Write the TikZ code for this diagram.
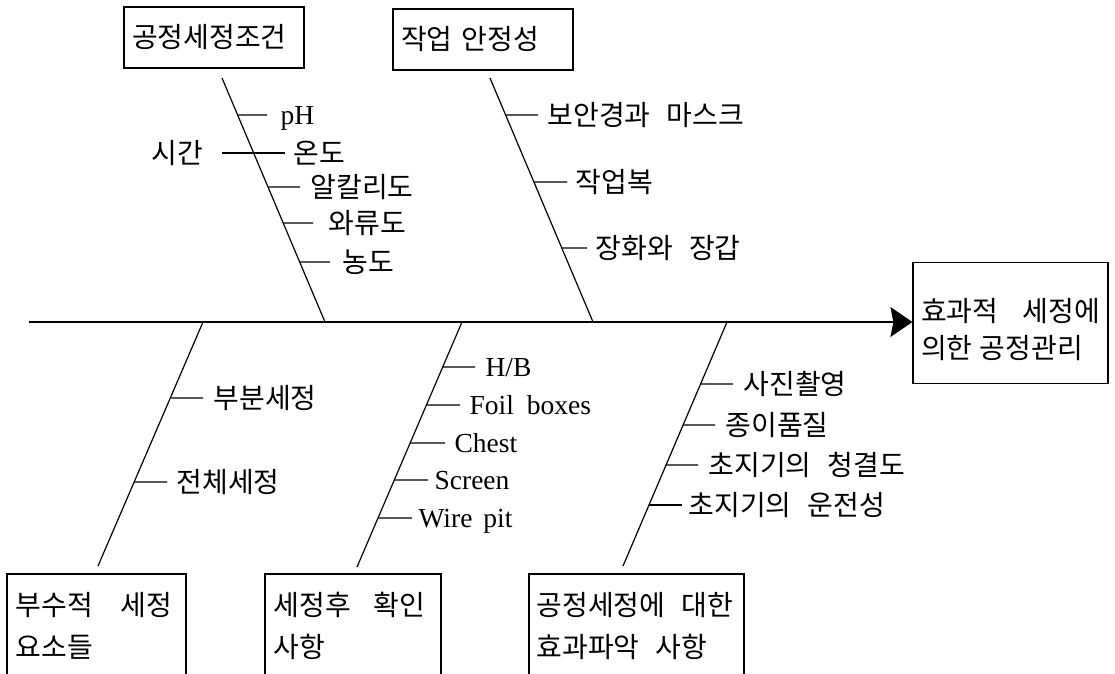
\documentclass[tikz,border=0pt]{standalone}
\usepackage{fontspec}
\setmainfont{Liberation Serif}
\newfontfamily\kr[WordSpace=2.6]{Noto Sans CJK KR}
\usetikzlibrary{arrows.meta,calc}
\begin{document}
\begin{tikzpicture}[x=1pt,y=-1pt,line width=1.2pt,
  box/.style={draw,line width=1.2pt,inner sep=0pt,font=\kr\fontsize{28}{37}\selectfont},
  kt/.style={anchor=west,inner sep=0pt,font=\kr\fontsize{28}{30}\selectfont,text height=20.5pt,text depth=0pt},
  ke/.style={kt,anchor=east},
  lt/.style={anchor=west,inner sep=0pt,font=\fontsize{27.5}{30}\selectfont,text height=18pt,text depth=0pt},
  bone/.style={line width=1.2pt},
  twig/.style={line width=1.2pt}]
\clip (0,0) rectangle (1115,673);
% boxes
\node[box,minimum width=180pt,minimum height=61pt,text width=164pt,align=left] (c1) at (214,37.5) {공정세정조건};
\node[box,minimum width=180pt,minimum height=61pt,text width=164pt,align=left] (c2) at (483,39.5) {작업 안정성};
\node[box,minimum width=195pt,minimum height=121pt,align=left] (goal) at (1010.5,323) {\rule{0pt}{36pt}효과적\hspace{24pt}세정에\\의한\hspace{7pt}공정관리};
\node[box,minimum width=179pt,minimum height=126pt] (c3) at (96.5,637) {};
\node[box,minimum width=176pt,minimum height=126pt] (c4) at (353,637) {};
\node[box,minimum width=215pt,minimum height=126pt] (c5) at (636.5,637) {};
\node[kt] (c3a) at (15,605) {부수적\hspace{28pt}세정};
\node[kt] (c3b) at (15,647) {요소들};
\node[kt] (c4a) at (273,605) {세정후\hspace{23pt}확인};
\node[kt] (c4b) at (273,647) {사항};
\node[kt] (c5a) at (536,605) {공정세정에 대한};
\node[kt] (c5b) at (536,647) {효과파악 사항};
% spine
\coordinate (s0) at (29,322);
\draw[-{Stealth[length=22pt,width=30pt,inset=3pt]}] (s0) -- (s0 -| goal.west);
% bones
\coordinate (t1a) at (222,78);  \coordinate (t1b) at (325,322);
\coordinate (t2a) at (490,78);  \coordinate (t2b) at (593,322);
\coordinate (b1a) at (203,322); \coordinate (b1b) at (98,566);
\coordinate (b2a) at (462,322); \coordinate (b2b) at (357,567);
\coordinate (b3a) at (727,322); \coordinate (b3b) at (623,566);
\draw[bone] (t1a) -- (t1b);
\draw[bone] (t2a) -- (t2b);
\draw[bone] (b1a) -- (b1b);
\draw[bone] (b2a) -- (b2b);
\draw[bone] (b3a) -- (b3b);
% top branch 1
\node[lt] (n1) at (280,115) {pH};
\node[kt] (n2) at (293,153) {온도};
\node[ke] (n2l) at (204,153) {시간};
\node[kt] (n3) at (310,187) {알칼리도};
\node[kt] (n4) at (328,223) {와류도};
\node[kt] (n5) at (342,262) {농도};
\draw[twig,shorten <=13pt] (n1.west) -- ($(t1a)!0.152!(t1b)$);
\draw[twig,shorten <=8pt,shorten >=18pt] (n2.west) -- (n2l.east);
\draw[twig,shorten <=10pt] (n3.west) -- ($(t1a)!0.447!(t1b)$);
\draw[twig,shorten <=15pt] (n4.west) -- ($(t1a)!0.594!(t1b)$);
\draw[twig,shorten <=12pt] (n5.west) -- ($(t1a)!0.754!(t1b)$);
% top branch 2
\node[kt] (m1) at (547,115) {보안경과 마스크};
\node[kt] (m2) at (575,182) {작업복};
\node[kt] (m3) at (595,248) {장화와 장갑};
\draw[twig,shorten <=9pt] (m1.west) -- ($(t2a)!0.152!(t2b)$);
\draw[twig,shorten <=8pt] (m2.west) -- ($(t2a)!0.426!(t2b)$);
\draw[twig,shorten <=8pt] (m3.west) -- ($(t2a)!0.697!(t2b)$);
% bottom branch 1
\node[kt] (p1) at (213,398) {부분세정};
\node[kt] (p2) at (176,482) {전체세정};
\draw[twig,shorten <=10pt] (p1.west) -- ($(b1a)!0.311!(b1b)$);
\draw[twig,shorten <=9pt] (p2.west) -- ($(b1a)!0.656!(b1b)$);
% bottom branch 2
\node[lt] (q1) at (485,367) {H/B};
\node[lt] (q2) at (469,405) {Foil\hspace{13pt}boxes};
\node[lt] (q3) at (454,443) {Chest};
\node[lt] (q4) at (434,480) {Screen};
\node[lt] (q5) at (418,518) {Wire\hspace{11pt}pit};
\draw[twig,shorten <=10pt] (q1.west) -- ($(b2a)!0.184!(b2b)$);
\draw[twig,shorten <=9pt] (q2.west) -- ($(b2a)!0.339!(b2b)$);
\draw[twig,shorten <=9pt] (q3.west) -- ($(b2a)!0.494!(b2b)$);
\draw[twig,shorten <=6pt] (q4.west) -- ($(b2a)!0.645!(b2b)$);
\draw[twig,shorten <=6pt] (q5.west) -- ($(b2a)!0.800!(b2b)$);
% bottom branch 3
\node[kt] (r1) at (743,384) {사진촬영};
\node[kt] (r2) at (725,425) {종이품질};
\node[kt] (r3) at (708,465) {초지기의 청결도};
\node[kt] (r4) at (688,505) {초지기의 운전성};
\draw[twig,shorten <=10pt] (r1.west) -- ($(b3a)!0.254!(b3b)$);
\draw[twig,shorten <=10pt] (r2.west) -- ($(b3a)!0.422!(b3b)$);
\draw[twig,shorten <=10pt] (r3.west) -- ($(b3a)!0.586!(b3b)$);
\draw[twig,shorten <=6pt] (r4.west) -- ($(b3a)!0.750!(b3b)$);
\end{tikzpicture}
\end{document}
